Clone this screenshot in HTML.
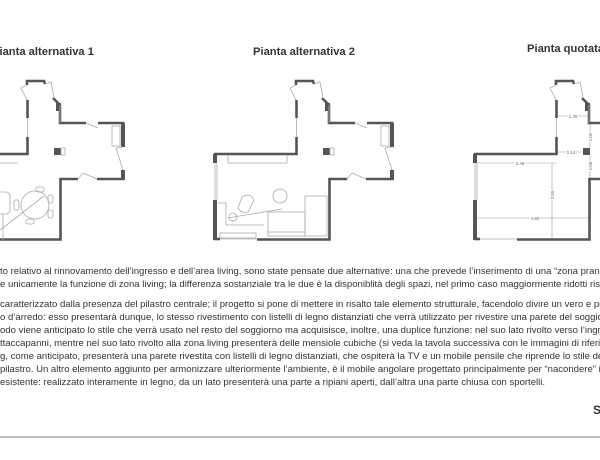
<!DOCTYPE html>
<html><head><meta charset="utf-8"><style>
html,body{margin:0;padding:0;background:#fff;}
body{width:600px;height:460px;position:relative;overflow:hidden;font-family:"Liberation Sans",sans-serif;}
svg{position:absolute;left:0;top:0;}
.t{position:absolute;white-space:nowrap;font-size:9.55px;color:#333;left:0;}
.h{position:absolute;white-space:nowrap;font-size:11.2px;color:#333;font-weight:bold;}
</style></head><body>
<svg width="600" height="460" viewBox="0 0 600 460">
<defs>
<g id="walls">
 <g fill="none" stroke="#555" stroke-width="2.6" stroke-linecap="butt">
  <polyline points="296,85 296,81 313,81 314,84"/>
  <line x1="296.5" y1="100" x2="296.5" y2="118"/>
  <polyline points="296.5,137 296.5,154 214,154"/>
  <line x1="215" y1="154" x2="215" y2="163"/>
  <line x1="215" y1="200" x2="215" y2="240"/>
  <line x1="214" y1="239" x2="220" y2="239"/>
  <polyline points="257,239.5 329.5,239.5 329.5,179 347,179"/>
  <polyline points="366,179 392,179 392,170"/>
  <polyline points="392,147 392,123 367,123"/>
  <polyline points="355,123 329,123 329,105"/>
  <line x1="322" y1="98" x2="329" y2="105"/>
 </g>
 <rect x="213" y="154" width="4" height="9" fill="#555"/>
 <rect x="213" y="200" width="4" height="40" fill="#555"/>
 <rect x="390" y="123" width="4" height="24" fill="#555"/>
 <rect x="390" y="170" width="4" height="10" fill="#555"/>
 <rect x="325" y="103" width="5" height="8" fill="#555"/>
 <rect x="323" y="148" width="7" height="7" fill="#555"/>
 <g fill="none" stroke="#aaa" stroke-width="0.8">
  <polyline points="296,85 290,88 296,100"/>
  <polyline points="314,84 320,82 323,98"/>
  <line x1="355" y1="123" x2="367" y2="128"/>
  <line x1="347" y1="179" x2="352" y2="173"/>
  <line x1="352" y1="173" x2="366" y2="179"/>
  <line x1="392" y1="147" x2="385" y2="148"/>
  <line x1="385" y1="148" x2="392" y2="170"/>
  <line x1="296.5" y1="118" x2="296.5" y2="137"/>
  <line x1="215" y1="163" x2="215" y2="200"/>
  <line x1="217" y1="163" x2="217" y2="200"/>
  <line x1="329" y1="105" x2="329" y2="123"/>
  <line x1="220" y1="239" x2="257" y2="239"/>
 </g>
</g>
</defs>

<g transform="translate(-269,0)">
 <use href="#walls"/>
 <g fill="none" stroke="#aaa" stroke-width="0.8">
  <rect x="381" y="126" width="8" height="20"/>
  <rect x="330" y="148" width="4" height="7"/>
  <line x1="214" y1="163" x2="287" y2="163"/>
 </g>
</g>
<g fill="none" stroke="#aaa" stroke-width="0.8">
 <circle cx="35" cy="205" r="14"/>
 <rect x="36" y="187" width="8" height="5" rx="2"/>
 <rect x="48" y="195" width="5" height="8" rx="2"/>
 <rect x="48" y="210" width="5" height="8" rx="2"/>
 <rect x="26" y="219" width="8" height="5" rx="2"/>
 <rect x="14" y="200" width="5" height="10" rx="2"/>
 <line x1="0" y1="230" x2="44" y2="196"/>
 <rect x="-5" y="192" width="15" height="22" rx="4"/>
 <line x1="3" y1="214" x2="3" y2="240"/>
</g>

<use href="#walls"/>
<g fill="none" stroke="#aaa" stroke-width="0.8">
 <rect x="381" y="126" width="8" height="20"/>
 <rect x="330" y="148" width="4" height="7"/>
 <line x1="228" y1="155" x2="228" y2="163"/>
 <line x1="228" y1="163" x2="287" y2="163"/>
 <line x1="287" y1="155" x2="287" y2="163"/>
 <path d="M242 197 q8-5 12 3 l-6 12 q-6 2-10-4 z"/>
 <circle cx="280" cy="196" r="7"/>
 <circle cx="233" cy="217" r="4"/>
 <line x1="228" y1="218" x2="282" y2="209"/>
 <rect x="305" y="196" width="22" height="40"/>
 <rect x="268" y="212" width="37" height="24"/>
 <line x1="268" y1="232" x2="305" y2="232"/>
 <line x1="218" y1="203" x2="226" y2="203"/>
 <line x1="226" y1="203" x2="226" y2="225"/>
 <rect x="220" y="233" width="36" height="5"/>
 <line x1="226" y1="225" x2="264" y2="225"/>
</g>

<g transform="translate(260,0)"><use href="#walls"/></g>
<g stroke="#999" stroke-width="0.6" fill="none">
 <line x1="558" y1="116" x2="588" y2="116"/>
 <line x1="558" y1="152" x2="582" y2="152"/>
 <line x1="477" y1="163" x2="556" y2="163"/>
 <line x1="552" y1="163" x2="552" y2="238"/>
 <line x1="477" y1="218" x2="588" y2="218"/>
 <line x1="590" y1="124" x2="590" y2="148"/>
 <line x1="590" y1="156" x2="590" y2="178"/>
</g>
<g font-family="Liberation Sans,sans-serif" font-size="4.5" fill="#666" text-anchor="middle" stroke="#fff" stroke-width="2" style="paint-order:stroke">
 <text x="573" y="118">1.35</text>
 <text x="571" y="154">1.14</text>
 <text x="520" y="165">3.46</text>
 <text x="535" y="220">4.80</text>
 <text transform="translate(554,195) rotate(-90)">3.50</text>
 <text transform="translate(592,137) rotate(-90)">1.05</text>
 <text transform="translate(592,166) rotate(-90)">1.00</text>
</g>
<line x1="0" y1="437" x2="600" y2="437" stroke="#bbb" stroke-width="2"/>
</svg>

<div class="h" style="left:-8px;top:46px;">Pianta alternativa 1</div>
<div class="h" style="left:253px;top:46px;">Pianta alternativa 2</div>
<div class="h" style="left:527px;top:43px;">Pianta quotata</div>

<div class="t" style="top:266px;">to relativo al rinnovamento dell’ingresso e dell’area living, sono state pensate due alternative: una che prevede l’inserimento di una “zona pranzo”</div>
<div class="t" style="top:279px;">e unicamente la funzione di zona living; la differenza sostanziale tra le due è la disponiblità degli spazi, nel primo caso maggiormente ridotti rispetto</div>
<div class="t" style="top:299px;"> caratterizzato dalla presenza del pilastro centrale; il progetto si pone di mettere in risalto tale elemento strutturale, facendolo divire un vero e proprio</div>
<div class="t" style="top:312px;">o d’arredo: esso presentarà dunque, lo stesso rivestimento con listelli di legno distanziati che verrà utilizzato per rivestire una parete del soggiorno</div>
<div class="t" style="top:325px;">odo viene anticipato lo stile che verrà usato nel resto del soggiorno ma acquisisce, inoltre, una duplice funzione: nel suo lato rivolto verso l’ingresso</div>
<div class="t" style="top:338px;">ttaccapanni, mentre nel suo lato rivolto alla zona living presenterà delle mensiole cubiche (si veda la tavola successiva con le immagini di riferimento</div>
<div class="t" style="top:351px;">g, come anticipato, presenterà una parete rivestita con listelli di legno distanziati, che ospiterà la TV e un mobile pensile che riprende lo stile del</div>
<div class="t" style="top:364px;"> pilastro. Un altro elemento aggiunto per armonizzare ulteriormente l’ambiente, è il mobile angolare progettato principalmente per “nacondere” il</div>
<div class="t" style="top:377px;"> esistente: realizzato interamente in legno, da un lato presenterà una parte a ripiani aperti, dall’altra una parte chiusa con sportelli.</div>
<div class="h" style="left:593px;top:403px;font-size:12px;">S</div>
</body></html>
